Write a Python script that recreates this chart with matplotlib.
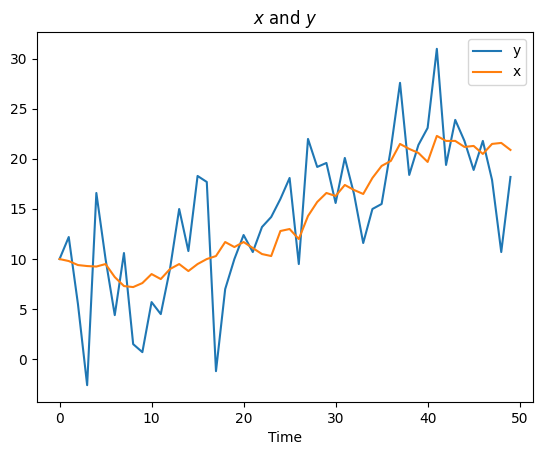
import numpy as np
from matplotlib import pyplot as plt

# values
time = np.arange(50)
y_vals = [10.0, 12.2, 5.5, -2.6, 16.6, 10.0, 4.4, 10.6, 1.5, 0.7,
          5.7, 4.5, 9.0, 15.0, 10.8, 18.3, 17.7, -1.2, 7.0, 10.0,
          12.4, 10.7, 13.2, 14.2, 16.0, 18.1, 9.5, 22.0, 19.2, 19.6,
          15.6, 20.1, 16.5, 11.6, 15.0, 15.5, 21.0, 27.6, 18.4, 21.4,
          23.1, 31.0, 19.4, 23.9, 21.8, 18.9, 21.8, 17.9, 10.7, 18.2]
x_vals = [10.0, 9.8, 9.4, 9.3, 9.25, 9.5, 8.2, 7.3, 7.2, 7.6,
          8.5, 8.0, 9.0, 9.5, 8.8, 9.5, 10.0, 10.3, 11.7, 11.2,
          11.7, 11.1, 10.5, 10.3, 12.8, 13.0, 12.0, 14.3, 15.7, 16.6,
          16.3, 17.4, 16.9, 16.5, 18.1, 19.3, 19.8, 21.5, 21.0, 20.6,
          19.7, 22.3, 21.8, 21.8, 21.2, 21.3, 20.5, 21.5, 21.6, 20.9]

fig = plt.figure(figsize=(5.43, 4.55), dpi=100)
ax = fig.add_axes([37/543, 1 - 402/455, 496/543, 370/455])
ax.plot(time, y_vals, label="y")
ax.plot(time, x_vals, label="x")
ax.set_title("$x$ and $y$")
ax.set_xlabel("Time")
ax.legend(loc="upper right")
fig.savefig("out.png", dpi=100)
